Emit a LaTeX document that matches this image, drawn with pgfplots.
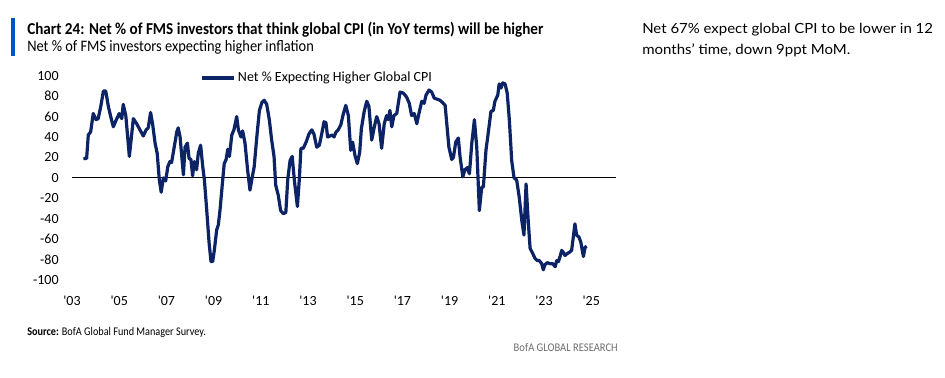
\documentclass[border=0pt]{standalone}
\usepackage{pgfplots}
\pgfplotsset{compat=1.18}
\usepackage{pgfplotstable}
\usepackage{fontspec}
\setmainfont{Carlito}
\newfontfamily\rightfont{Lato}
\definecolor{navy}{RGB}{12,35,102}
\definecolor{bofablue}{RGB}{0,83,204}
\definecolor{footgray}{RGB}{110,110,110}

\pgfplotstableread{
year val
2003.48 19
2003.62 19
2003.69 42
2003.79 45
2003.90 63
2004.02 57
2004.11 58
2004.22 70
2004.33 85
2004.43 85
2004.54 70
2004.64 60
2004.75 50
2004.86 56
2005.00 63
2005.11 58
2005.17 72
2005.28 61
2005.43 21
2005.60 58
2005.74 53
2005.88 47
2006.02 41
2006.14 47
2006.23 49
2006.33 64
2006.42 52
2006.52 34
2006.61 24
2006.70 -2
2006.78 -14
2006.87 0
2006.97 -3
2007.06 11
2007.15 16
2007.22 15
2007.33 30
2007.44 45
2007.50 49
2007.58 40
2007.72 3
2007.79 30
2007.89 34
2007.96 19
2008.04 18
2008.11 2
2008.18 16
2008.28 8
2008.35 24
2008.45 32
2008.54 11
2008.61 -2
2008.71 -32
2008.81 -64
2008.89 -82
2008.96 -82
2009.03 -71
2009.13 -51
2009.20 -46
2009.27 -32
2009.37 -6
2009.45 14
2009.53 18
2009.60 28
2009.67 21
2009.77 42
2009.86 47
2009.98 60
2010.05 47
2010.16 40
2010.23 46
2010.33 34
2010.44 8
2010.54 -12
2010.64 1
2010.72 11
2010.83 40
2010.94 66
2011.05 74
2011.14 76
2011.25 72
2011.36 57
2011.46 37
2011.56 21
2011.63 -7
2011.74 -17
2011.84 -32
2011.95 -35
2012.06 -34
2012.14 -2
2012.24 17
2012.33 21
2012.42 -2
2012.55 -28
2012.63 -2
2012.70 29
2012.80 29
2012.92 35
2013.04 43
2013.16 47
2013.25 43
2013.37 30
2013.48 32
2013.58 43
2013.68 55
2013.76 54
2013.83 40
2013.93 41
2014.03 42
2014.10 40
2014.19 45
2014.28 47
2014.39 52
2014.50 63
2014.60 71
2014.71 61
2014.81 27
2014.89 35
2014.99 22
2015.09 14
2015.19 25
2015.26 48
2015.38 65
2015.49 75
2015.58 70
2015.70 37
2015.81 50
2015.91 60
2016.01 53
2016.12 29
2016.23 53
2016.33 61
2016.40 57
2016.47 66
2016.55 50
2016.64 61
2016.76 63
2016.90 84
2017.04 83
2017.18 79
2017.29 73
2017.39 61
2017.50 63
2017.61 53
2017.70 63
2017.82 75
2017.92 73
2018.00 81
2018.13 86
2018.24 84
2018.35 78
2018.48 77
2018.59 76
2018.69 74
2018.81 71
2018.88 53
2018.97 30
2019.09 18
2019.16 20
2019.26 35
2019.37 39
2019.44 21
2019.56 1
2019.65 8
2019.75 10
2019.84 4
2019.94 34
2020.05 57
2020.15 30
2020.26 -32
2020.36 -9
2020.43 -9
2020.54 27
2020.67 50
2020.75 65
2020.85 66
2020.92 75
2021.04 81
2021.10 92
2021.18 88
2021.25 93
2021.35 92
2021.44 83
2021.53 57
2021.63 17
2021.73 0
2021.84 -2
2021.95 -19
2022.06 -42
2022.15 -56
2022.24 -6
2022.33 -42
2022.41 -69
2022.52 -74
2022.62 -79
2022.72 -81
2022.80 -81
2022.90 -84
2022.97 -90
2023.04 -85
2023.14 -83
2023.25 -84
2023.37 -84
2023.47 -87
2023.54 -81
2023.61 -82
2023.68 -77
2023.75 -71
2023.82 -73
2023.89 -76
2023.99 -74
2024.07 -73
2024.17 -71
2024.24 -58
2024.31 -45
2024.38 -56
2024.48 -58
2024.56 -63
2024.62 -71
2024.67 -77
2024.74 -68
2024.81 -67
}\cpidata

\pgfplotstableread{
year val
2003 0
2026.05 0
}\zeroline

\begin{document}
\begin{tikzpicture}[x=1pt,y=1pt]
\path[use as bounding box] (0pt,0pt) rectangle (708.75pt,283.5pt);
% header
\fill[bofablue] (8pt,241.5pt) rectangle (11.5pt,270pt);
\node[anchor=west,inner sep=0pt] at (20.25pt,261pt) {\resizebox{387pt}{\height}{\fontsize{12.5}{14}\selectfont\bfseries Chart 24: Net \% of FMS investors that think global CPI (in YoY terms) will be higher}};
\node[anchor=west,inner sep=0pt] at (20.25pt,248pt) {\resizebox{215pt}{\height}{\fontsize{12}{14}\selectfont Net \% of FMS investors expecting higher inflation}};
% right comment
\node[anchor=west,inner sep=0pt] at (481.5pt,261pt) {\resizebox{218pt}{\height}{\rightfont\fontsize{10.5}{13}\selectfont Net 67\% expect global CPI to be lower in 12}};
\node[anchor=west,inner sep=0pt] at (481.5pt,246pt) {\resizebox{156pt}{\height}{\rightfont\fontsize{10.5}{13}\selectfont months’ time, down 9ppt MoM.}};
% footer
\node[anchor=west,inner sep=0pt] at (20.25pt,34.5pt) {\resizebox{134pt}{\height}{\fontsize{8.8}{10}\selectfont\textbf{Source:} BofA Global Fund Manager Survey.}};
\node[anchor=east,inner sep=0pt,text=footgray] at (463.5pt,22.5pt) {\resizebox{78pt}{\height}{\fontsize{8.8}{10}\selectfont BofA GLOBAL RESEARCH}};

\begin{axis}[
  at={(54pt,73.5pt)}, anchor=south west,
  scale only axis, width=408pt, height=153.2pt,
  xmin=2003, xmax=2026.05, ymin=-100, ymax=100,
  axis line style={draw=none},
  major tick length=0pt,
  xtick={2003,2005,...,2025},
  xticklabels={\textquotesingle03,\textquotesingle05,\textquotesingle07,\textquotesingle09,\textquotesingle11,\textquotesingle13,\textquotesingle15,\textquotesingle17,\textquotesingle19,\textquotesingle21,\textquotesingle23,\textquotesingle25},
  ytick={-100,-80,...,100},
  yticklabels={-100,-80,-60,-40,-20,0,20,40,60,80,100},
  ticklabel style={font=\fontsize{10.5}{12}\selectfont, text=black},
  xticklabel shift=8.5pt,
  yticklabel shift=6.5pt,
  legend style={draw=none, fill=none, at={(0.235,0.989)}, anchor=west, inner sep=0pt, font=\fontsize{10.5}{12}\selectfont},
  legend image code/.code={\draw[#1] (0pt,0pt) -- (24pt,0pt);},
  clip=false,
]
\addplot[black, line width=0.75pt, forget plot] table[x=year,y=val]{\zeroline};
\addplot[navy, line width=2.4pt, line join=round] table[x=year,y=val]{\cpidata};
\addlegendentry{Net \% Expecting Higher Global CPI}
\end{axis}
\end{tikzpicture}
\end{document}
